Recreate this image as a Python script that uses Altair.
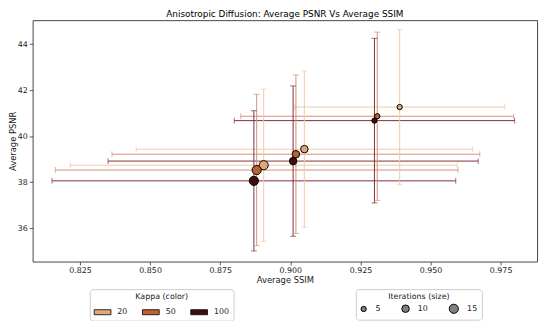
import altair as alt
import pandas as pd

kappa = [20, 50, 100, 20, 50, 100, 20, 50, 100]
iterations = [5, 5, 5, 10, 10, 10, 15, 15, 15]
ssim = [0.939, 0.931, 0.930, 0.905, 0.902, 0.901, 0.8905, 0.888, 0.887]
psnr = [41.27, 40.87, 40.68, 39.44, 39.22, 38.92, 38.74, 38.53, 38.06]
ssim_err = [0.0375, 0.0487, 0.050, 0.060, 0.0656, 0.066, 0.069, 0.0718, 0.072]
psnr_err = [3.38, 3.66, 3.58, 3.40, 3.45, 3.27, 3.31, 3.29, 3.05]

kappa_levels = [20, 50, 100]
point_colors = ["#dea878", "#c0602f", "#3d0f0f"]
line_colors = ["#edcbab", "#d0917a", "#7e3038"]
x_ticks = [0.825, 0.850, 0.875, 0.900, 0.925, 0.950, 0.975]
y_ticks = [36, 38, 40, 42, 44]

df = pd.DataFrame({
    "kappa": kappa, "iterations": iterations, "ssim": ssim, "psnr": psnr,
    "ssim_err": ssim_err, "psnr_err": psnr_err,
})
df["ssim_lo"] = df["ssim"] - df["ssim_err"]
df["ssim_hi"] = df["ssim"] + df["ssim_err"]
df["psnr_lo"] = df["psnr"] - df["psnr_err"]
df["psnr_hi"] = df["psnr"] + df["psnr_err"]
df["line_color"] = [line_colors[kappa_levels.index(k)] for k in df["kappa"]]

FONT = "DejaVu Sans"
xscale = alt.Scale(domain=[0.8081, 0.988], nice=False, zero=False)
yscale = alt.Scale(domain=[34.55, 45.05], nice=False, zero=False)
xaxis = alt.Axis(values=x_ticks, format=".3f", title="Average SSIM", grid=False,
                 labelPadding=1.5, titlePadding=1.5)
yaxis = alt.Axis(values=y_ticks, format="d", title="Average PSNR", grid=False,
                 labelPadding=2, titlePadding=0)

base = alt.Chart(df)
lc = alt.Color("line_color:N", scale=None, legend=None)

hbar = base.mark_rule(strokeWidth=1).encode(
    x=alt.X("ssim_lo:Q", scale=xscale, axis=xaxis), x2="ssim_hi:Q",
    y=alt.Y("psnr:Q", scale=yscale, axis=yaxis), color=lc)
vbar = base.mark_rule(strokeWidth=1).encode(
    x=alt.X("ssim:Q", scale=xscale), y=alt.Y("psnr_lo:Q", scale=yscale), y2="psnr_hi:Q", color=lc)
cap_l = base.mark_tick(orient="vertical", size=6, thickness=1).encode(
    x=alt.X("ssim_lo:Q", scale=xscale), y=alt.Y("psnr:Q", scale=yscale), color=lc)
cap_r = base.mark_tick(orient="vertical", size=6, thickness=1).encode(
    x=alt.X("ssim_hi:Q", scale=xscale), y=alt.Y("psnr:Q", scale=yscale), color=lc)
cap_b = base.mark_tick(orient="horizontal", size=6, thickness=1).encode(
    x=alt.X("ssim:Q", scale=xscale), y=alt.Y("psnr_lo:Q", scale=yscale), color=lc)
cap_t = base.mark_tick(orient="horizontal", size=6, thickness=1).encode(
    x=alt.X("ssim:Q", scale=xscale), y=alt.Y("psnr_hi:Q", scale=yscale), color=lc)

points = base.mark_circle(opacity=1, stroke="black", strokeWidth=1).encode(
    x=alt.X("ssim:Q", scale=xscale),
    y=alt.Y("psnr:Q", scale=yscale),
    fill=alt.Fill("kappa:O", scale=alt.Scale(domain=kappa_levels, range=point_colors),
                  legend=alt.Legend(title="Kappa (color)", orient="none", legendX=58, legendY=273,
                                    direction="horizontal", symbolType="M-1,-0.3H1V0.3H-1Z",
                                    symbolSize=289, symbolStrokeColor="black", symbolStrokeWidth=0.8,
                                    labelOffset=6, columnPadding=12, titleAnchor="middle")),
    size=alt.Size("iterations:Q", scale=alt.Scale(domain=[0, 15], range=[0, 86]),
                  legend=alt.Legend(title="Iterations (size)", orient="none", legendX=328, legendY=273,
                                    direction="horizontal", values=[5, 10, 15],
                                    symbolFillColor="gray", symbolStrokeColor="black",
                                    symbolStrokeWidth=1, symbolOpacity=1,
                                    labelOffset=8, columnPadding=18, titleAnchor="middle")),
)

chart = alt.layer(hbar, vbar, cap_l, cap_r, cap_b, cap_t, points).properties(
    width=512, height=245,
    autosize=alt.AutoSizeParams(type="none"),
    padding={"left": 25, "top": 10, "right": 5, "bottom": 58},
    title=alt.TitleParams("Anisotropic Diffusion: Average PSNR Vs Average SSIM", font=FONT,
                          fontSize=9, fontWeight="normal", color="black", offset=1, anchor="middle"),
).configure_view(
    stroke="#444", strokeWidth=1
).configure_axis(
    domain=False, tickColor="#333", tickSize=3.5, tickWidth=0.8,
    labelFont=FONT, labelFontSize=8, labelColor="#222",
    titleFont=FONT, titleFontSize=8.5, titleFontWeight="normal", titleColor="#222",
).configure_legend(
    labelFont=FONT, labelFontSize=8, labelColor="#222",
    titleFont=FONT, titleFontSize=8, titleFontWeight="normal", titleColor="#222",
    strokeColor="#ccc", fillColor="white", padding=4, cornerRadius=3, titlePadding=2,
)

chart.save("out.html", embed_options={"renderer": "svg", "actions": False})
